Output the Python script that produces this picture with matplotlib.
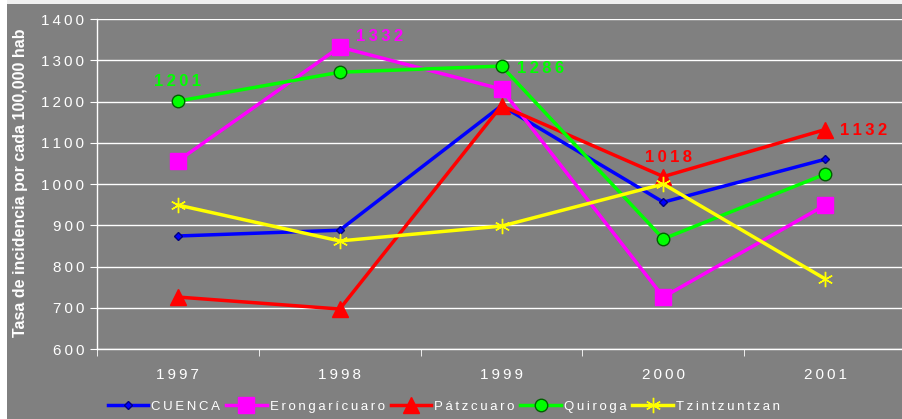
import matplotlib
matplotlib.use('Agg')
import matplotlib.pyplot as plt
from matplotlib.patches import Rectangle

years = ['1997', '1998', '1999', '2000', '2001']
cuenca = [874, 888, 1190, 956, 1060]
erongaricuaro = [1056, 1332, 1230, 726, 949]
patzcuaro = [726, 697, 1190, 1018, 1132]
quiroga = [1201, 1271, 1286, 867, 1024]
tzintzuntzan = [949, 862, 898, 1000, 770]
y_ticks = [600, 700, 800, 900, 1000, 1100, 1200, 1300, 1400]

plt.rcParams['font.family'] = ['Liberation Sans', 'DejaVu Sans']
bg = '#808080'
SP = '\u2009'


def spaced(s):
    # imitate the letter spacing of the original
    return SP.join(s)


fig = plt.figure(figsize=(9.02, 4.19), dpi=100, facecolor=bg)
ax = fig.add_axes([0.1075, 0.167, 0.897, 0.7876])
ax.set_facecolor(bg)

x = list(range(len(years)))
ax.plot(x, cuenca, color='#0000ff', lw=2.5, marker='D', ms=4,
        mfc='#0000ff', mec='#000080', label='CUENCA', zorder=3)
ax.plot(x, erongaricuaro, color='#ff00ff', lw=2.5, marker='s', ms=11,
        mfc='#ff00ff', mec='#ff00ff', label='Erongarícuaro', zorder=3)
ax.plot(x, patzcuaro, color='#ff0000', lw=2.5, marker='^', ms=11,
        mfc='#ff0000', mec='#ff0000', label='Pátzcuaro', zorder=3)
ax.plot(x, quiroga, color='#00ff00', lw=2.5, marker='o', ms=9,
        mfc='#00ff00', mec='#006000', label='Quiroga', zorder=3)
ax.plot(x, tzintzuntzan, color='#ffff00', lw=2.5, marker=(6, 2, 0), ms=11,
        mfc='#ffff00', mec='#ffff00', mew=1, label='Tzintzuntzan', zorder=3)

# value labels
lab = dict(fontsize=12, fontweight='bold')
ax.annotate(spaced(str(quiroga[0])), (0, quiroga[0]), xytext=(0, 9),
            textcoords='offset points', ha='center', va='bottom', color='#00ff00', **lab)
ax.annotate(spaced(str(erongaricuaro[1])), (1, erongaricuaro[1]), xytext=(12, 2),
            textcoords='offset points', ha='left', va='bottom', color='#ff00ff', **lab)
ax.annotate(spaced(str(quiroga[2])), (2, quiroga[2]), xytext=(11, -2),
            textcoords='offset points', ha='left', va='center', color='#00ff00', **lab)
ax.annotate(spaced(str(patzcuaro[3])), (3, patzcuaro[3]), xytext=(4, 8),
            textcoords='offset points', ha='center', va='bottom', color='#ff0000', **lab)
ax.annotate(spaced(str(patzcuaro[4])), (4, patzcuaro[4]), xytext=(11, -1),
            textcoords='offset points', ha='left', va='center', color='#ff0000', **lab)

ax.set_xlim(-0.5, 4.5)
ax.set_ylim(600, 1400)
ax.set_yticks(y_ticks)
ax.set_yticklabels([spaced(str(v)) for v in y_ticks])
ax.set_xticks(x)
ax.set_xticklabels([spaced(y) for y in years])
ax.set_xticks([i + 0.5 for i in range(-1, len(years))], minor=True)
ax.tick_params(axis='x', which='major', length=0, pad=14, colors='white', labelsize=11)
ax.tick_params(axis='x', which='minor', length=5, color='white', direction='out')
ax.tick_params(axis='y', length=5, color='white', colors='white', labelsize=11, pad=4)
ax.grid(axis='y', color='white', lw=1)
ax.set_axisbelow(True)
for s in ['top', 'right']:
    ax.spines[s].set_visible(False)
for s in ['left', 'bottom']:
    ax.spines[s].set_color('white')
    ax.spines[s].set_linewidth(1)

fig.text(0.023, 0.565, 'Tasa de incidencia por cada 100,000 hab', rotation=90,
         ha='center', va='center', color='white', fontsize=11.5, fontweight='bold')

leg = fig.legend(loc='center', bbox_to_anchor=(0.492, 0.029), ncol=5, frameon=False,
                 handlelength=3.1, handletextpad=0.2, columnspacing=0.45,
                 fontsize=9.5, labelcolor='white', borderaxespad=0)
for t in leg.get_texts():
    t.set_text(spaced(t.get_text()))

# light frame strips at top and left
fig.patches.append(Rectangle((0, 0.99), 1, 0.01, transform=fig.transFigure,
                             facecolor='#f0f0f0', edgecolor='none'))
fig.patches.append(Rectangle((0, 0), 0.008, 1, transform=fig.transFigure,
                             facecolor='white', edgecolor='none'))

fig.savefig('out.png', dpi=100, facecolor=bg)
